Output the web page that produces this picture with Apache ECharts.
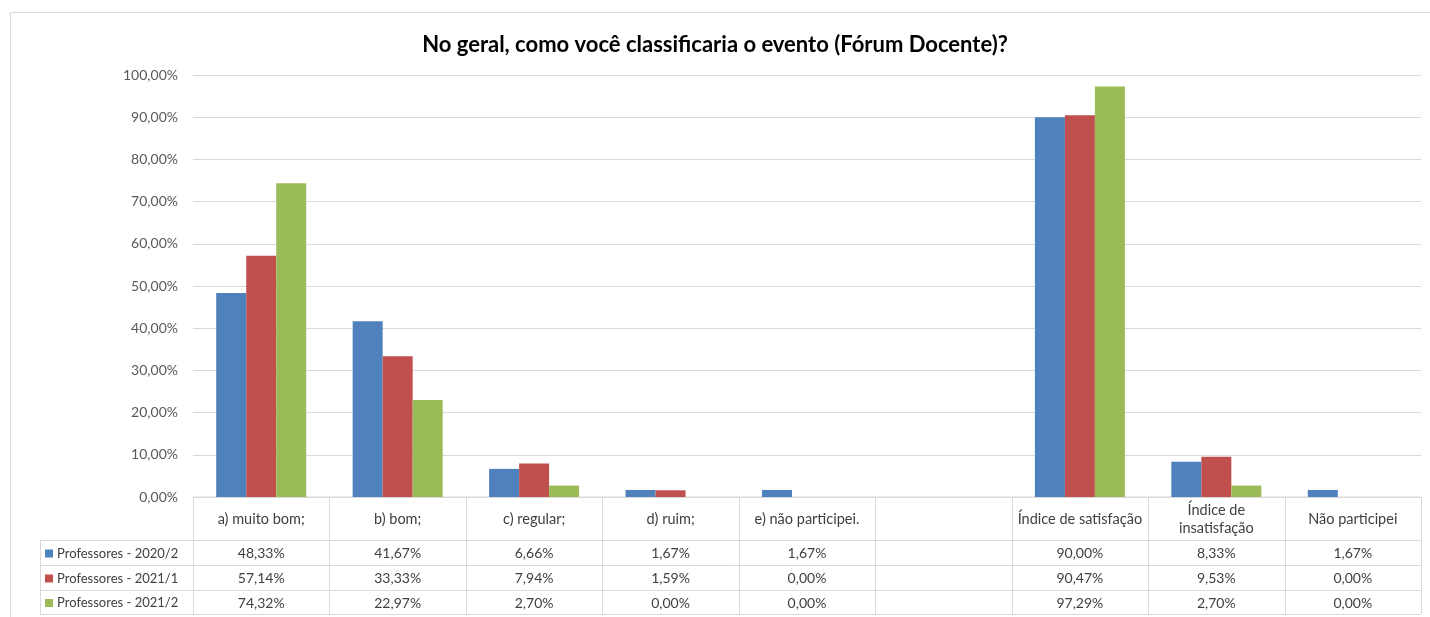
<!DOCTYPE html>
<html>
<head>
<meta charset="utf-8">
<script src="https://cdn.jsdelivr.net/npm/echarts@6/dist/echarts.min.js"></script>
<style>
html, body { margin: 0; padding: 0; background: #fff; }
#main { width: 1430px; height: 617px; }
</style>
</head>
<body>
<div id="main"></div>
<script>
// categorias e valores (%)
var categories = ['a) muito bom;', 'b) bom;', 'c) regular;', 'd) ruim;', 'e) não participei.', '',
	'Índice de satisfação', 'Índice de\ninsatisfação', 'Não participei'];
var seriesNames = ['Professores - 2020/2', 'Professores - 2021/1', 'Professores - 2021/2'];
var prof20202 = [48.33, 41.67, 6.66, 1.67, 1.67, null, 90.00, 8.33, 1.67];
var prof20211 = [57.14, 33.33, 7.94, 1.59, 0.00, null, 90.47, 9.53, 0.00];
var prof20212 = [74.32, 22.97, 2.70, 0.00, 0.00, null, 97.29, 2.70, 0.00];
var colors = ['#4F81BD', '#C0504D', '#9BBB59'];
var FONT = 'Lato';

function pct(v) {
	return v.toFixed(2).replace('.', ',') + '%';
}

var myChart = echarts.init(document.getElementById('main'));
var allData = [prof20202, prof20211, prof20212];

option = {
	backgroundColor: '#fff',
	animation: false,
	title: {
		text: 'No geral, como você classificaria o evento (Fórum Docente)?',
		left: 'center',
		top: 29,
		textStyle: { fontFamily: FONT, fontSize: 22, fontWeight: 'bold', color: '#000' }
	},
	grid: { left: 193, right: 9, top: 75, bottom: 120 },
	xAxis: {
		type: 'category',
		data: categories,
		axisLine: { lineStyle: { color: '#D9D9D9' } },
		axisTick: { show: false },
		axisLabel: { show: false }
	},
	yAxis: {
		type: 'value',
		min: 0,
		max: 100,
		interval: 10,
		axisLabel: {
			formatter: function(v) { return pct(v); },
			color: '#595959', fontFamily: FONT, fontSize: 14, margin: 15
		},
		splitLine: { lineStyle: { color: '#D9D9D9' } },
		axisLine: { show: false },
		axisTick: { show: false }
	},
	series: seriesNames.map(function(name, i) {
		return {
			name: name,
			type: 'bar',
			data: allData[i],
			barWidth: 30,
			barGap: '0%',
			itemStyle: { color: colors[i] }
		};
	})
};
myChart.setOption(option);

// tabela de dados abaixo do grafico
var c0 = myChart.convertToPixel({ xAxisIndex: 0 }, 0);
var c1 = myChart.convertToPixel({ xAxisIndex: 0 }, 1);
var band = c1 - c0;
var yBase = myChart.convertToPixel({ yAxisIndex: 0 }, 0);
var rowsY = [yBase, yBase + 43, yBase + 68, yBase + 93, yBase + 117];
var leftX = 40;
var x0 = c0 - band / 2;
var xEnd = x0 + band * categories.length;
var lineStyle = { stroke: '#D9D9D9', lineWidth: 1 };
var txtStyle = { fontFamily: FONT, fontSize: 14, fill: '#404040' };
var g = [];

// bordas externas
g.push({ type: 'rect', shape: { x: 10.5, y: 12.5, width: 1430, height: 617 },
	style: { fill: null, stroke: '#D9D9D9', lineWidth: 1 }, silent: true });

// linhas horizontais
g.push({ type: 'line', shape: { x1: x0, y1: rowsY[0], x2: xEnd, y2: rowsY[0] }, style: lineStyle });
for (var r = 1; r < rowsY.length; r++) {
	g.push({ type: 'line', shape: { x1: leftX, y1: rowsY[r] + 0.5, x2: xEnd, y2: rowsY[r] + 0.5 }, style: lineStyle });
}
// linhas verticais
for (var k = 0; k <= categories.length; k++) {
	var xx = Math.round(x0 + band * k) + 0.5;
	g.push({ type: 'line', shape: { x1: xx, y1: rowsY[0], x2: xx, y2: rowsY[4] }, style: lineStyle });
}
g.push({ type: 'line', shape: { x1: leftX + 0.5, y1: rowsY[1], x2: leftX + 0.5, y2: rowsY[4] }, style: lineStyle });

// cabecalho
for (var i = 0; i < categories.length; i++) {
	var cx = myChart.convertToPixel({ xAxisIndex: 0 }, i);
	g.push({ type: 'text', x: cx, y: (rowsY[0] + rowsY[1]) / 2 + 1,
		style: Object.assign({}, txtStyle, { text: categories[i], fontSize: 14.5, align: 'center', verticalAlign: 'middle', lineHeight: 18 }) });
	for (var s = 0; s < allData.length; s++) {
		var v = allData[s][i];
		if (v === null) continue;
		g.push({ type: 'text', x: cx, y: (rowsY[s + 1] + rowsY[s + 2]) / 2 + 1,
			style: Object.assign({}, txtStyle, { text: pct(v), align: 'center', verticalAlign: 'middle' }) });
	}
}
// legenda na primeira coluna
for (var s = 0; s < seriesNames.length; s++) {
	var ym = (rowsY[s + 1] + rowsY[s + 2]) / 2 + 1;
	g.push({ type: 'rect', shape: { x: 45, y: ym - 4, width: 8, height: 8 }, style: { fill: colors[s] } });
	g.push({ type: 'text', x: 57, y: ym,
		style: Object.assign({}, txtStyle, { text: seriesNames[s], fontSize: 13, align: 'left', verticalAlign: 'middle' }) });
}

myChart.setOption({ graphic: g });
</script>
</body>
</html>
